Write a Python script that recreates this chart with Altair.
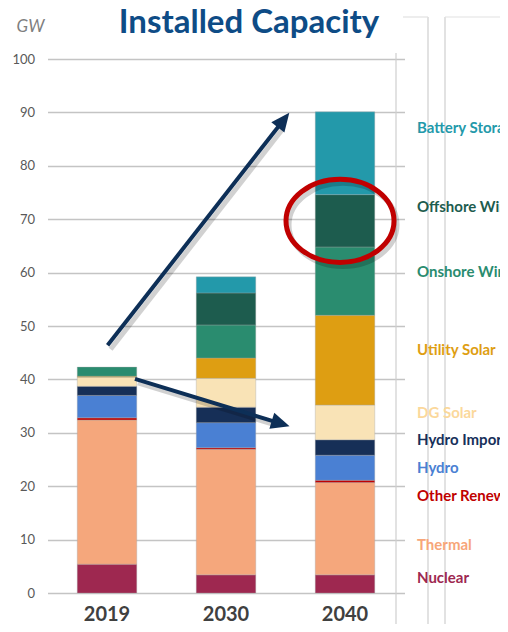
import altair as alt
import pandas as pd

# ---------------- data ----------------
years = ["2019", "2030", "2040"]
sources = ["Nuclear", "Thermal", "Other Renewables", "Hydro", "Hydro Imports",
           "DG Solar", "Utility Solar", "Onshore Wind", "Offshore Wind", "Battery Storage"]
cap_2019 = [5.4, 27.0, 0.4, 4.2, 1.7, 1.7, 0.2, 1.7, 0.0, 0.0]
cap_2030 = [3.4, 23.5, 0.3, 4.7, 2.9, 5.4, 3.8, 6.2, 6.0, 3.0]
cap_2040 = [3.4, 17.3, 0.4, 4.7, 2.9, 6.5, 16.8, 12.8, 9.8, 15.5]

bar_colors = ["#9E2850", "#F5A77C", "#C00000", "#4A80D3", "#162F57",
              "#F9E3B6", "#DE9E12", "#2A8C6F", "#1D5C4E", "#2399AA"]
label_colors = ["#9E2850", "#F7A679", "#C00000", "#4A80D3", "#17305A",
                "#FBD89B", "#DE9E12", "#2A8C6F", "#1D5C4E", "#2399AA"]
# vertical anchor (GW) of each right-hand label
label_gw = [2.8, 9.0, 18.2, 23.4, 28.7, 33.7, 45.5, 60.1, 72.2, 87.1]

title_text = "Installed Capacity"
unit_text = "GW"
y_ticks = [0, 10, 20, 30, 40, 50, 60, 70, 80, 90, 100]

# annotation arrows (x in category units: 0=2019, 1=2030, 2=2040)
arrow_x0 = [0.005, 0.235]
arrow_y0 = [46.4, 40.1]
arrow_x1 = [1.446, 1.401]
arrow_y1 = [87.5, 32.15]
arrow_angle = [38, 107]
# highlight ellipse around 2040 offshore wind
ring_x = [1.958]
ring_y = [69.7]

# ---------------- tables ----------------
rows = []
for yr, vals in zip(years, [cap_2019, cap_2030, cap_2040]):
    for i, (s, v) in enumerate(zip(sources, vals)):
        if v > 0:
            rows.append({"year": yr, "source": s, "gw": v, "ord": i})
df = pd.DataFrame(rows)

lab_df = pd.DataFrame({"source": sources, "y": label_gw, "c": label_colors,
                       "x": [2.605] * len(sources)})
arr_df = pd.DataFrame({"x": arrow_x0, "y": arrow_y0, "x2": arrow_x1, "y2": arrow_y1,
                       "ang": arrow_angle})
ring_df = pd.DataFrame({"x": ring_x, "y": ring_y})
one = pd.DataFrame({"t": [title_text], "u": [unit_text]})

W, H = 357, 534
FONT = "Lato"
Y_SCALE = alt.Scale(domain=[0, 100], nice=False)
X_ANN = alt.Scale(domain=[-0.5, 2.5], nice=False, zero=False)

bars = alt.Chart(df).mark_bar(stroke="#A6A6A6", strokeWidth=0.6, strokeOpacity=0.6).encode(
    x=alt.X("year:N", sort=years,
            scale=alt.Scale(paddingInner=0.5, paddingOuter=0.25),
            axis=alt.Axis(title=None, labelAngle=0, ticks=False, domain=False,
                          labelFont=FONT, labelFontSize=20, labelFontWeight="bold",
                          labelColor="#404040", labelPadding=11)),
    y=alt.Y("gw:Q", stack="zero", scale=Y_SCALE,
            axis=alt.Axis(title=None, values=y_ticks, grid=True, gridColor="#C4C4C4",
                          gridWidth=1.5, ticks=False, domain=False, labelFont=FONT,
                          labelFontSize=13, labelColor="#595959", labelPadding=13)),
    color=alt.Color("source:N", scale=alt.Scale(domain=sources, range=bar_colors), legend=None),
    order=alt.Order("ord:Q", sort="ascending"),
)

# decorative slide frame lines
frame_v = alt.Chart(pd.DataFrame({"x": [348.5, 380.5, 397.5], "y": [-6, -42, -42]})).mark_rule(
    color="#CFCFCF", strokeWidth=1.2).encode(
    x=alt.X("x:Q", scale=None), y=alt.Y("y:Q", scale=None), y2=alt.value(H + 40))
frame_h = alt.Chart(pd.DataFrame({"x": [355.5, 397.5], "x2": [380.5, 460]})).mark_rule(
    color="#E2E2E2", strokeWidth=1.2).encode(
    x=alt.X("x:Q", scale=None), x2="x2", y=alt.value(-42))

arrow_shadow = alt.Chart(arr_df).mark_rule(color="#000000", opacity=0.18, strokeWidth=5,
                                           xOffset=3, yOffset=4, x2Offset=3, y2Offset=4).encode(
    x=alt.X("x:Q", scale=X_ANN, axis=None), y=alt.Y("y:Q", scale=Y_SCALE), x2="x2", y2="y2")
arrows = alt.Chart(arr_df).mark_rule(color="#0D2F57", strokeWidth=4).encode(
    x=alt.X("x:Q", scale=X_ANN, axis=None), y=alt.Y("y:Q", scale=Y_SCALE), x2="x2", y2="y2")
head_path = "M 0 -1 L 0.5 0.12 L -0.5 0.12 Z"
heads = alt.Chart(arr_df).mark_point(shape=head_path, size=1100, filled=True, opacity=1,
                                     color="#0D2F57", strokeWidth=0).encode(
    x=alt.X("x2:Q", scale=X_ANN, axis=None), y=alt.Y("y2:Q", scale=Y_SCALE),
    angle=alt.Angle("ang:Q", scale=None))

ell = ("M -1 0 C -1 -0.425 -0.552 -0.77 0 -0.77 C 0.552 -0.77 1 -0.425 1 0 "
       "C 1 0.425 0.552 0.77 0 0.77 C -0.552 0.77 -1 0.425 -1 0 Z")
ring_shadow = alt.Chart(ring_df).mark_point(shape=ell, size=11664, filled=False, color="#000000",
                                            opacity=0.18, strokeWidth=5, xOffset=3, yOffset=4).encode(
    x=alt.X("x:Q", scale=X_ANN, axis=None), y=alt.Y("y:Q", scale=Y_SCALE))
ring = alt.Chart(ring_df).mark_point(shape=ell, size=11664, filled=False, color="#C00000",
                                     opacity=1, strokeWidth=5).encode(
    x=alt.X("x:Q", scale=X_ANN, axis=None), y=alt.Y("y:Q", scale=Y_SCALE))

labels = alt.Chart(lab_df).mark_text(align="left", baseline="middle", font=FONT,
                                     fontSize=15, fontWeight="bold").encode(
    x=alt.X("x:Q", scale=X_ANN, axis=None), y=alt.Y("y:Q", scale=Y_SCALE),
    text="source:N", color=alt.Color("c:N", scale=None, legend=None))

title = alt.Chart(one).mark_text(align="center", baseline="alphabetic", font=FONT,
                                 fontSize=33, fontWeight="bold", color="#0E4C86").encode(
    text="t:N", x=alt.value(201.5), y=alt.value(-26))
unit = alt.Chart(one).mark_text(align="center", baseline="alphabetic", font=FONT,
                                fontSize=17, fontStyle="italic", color="#7F7F7F").encode(
    text="u:N", x=alt.value(-17), y=alt.value(-27))

chart = alt.layer(
    frame_v, frame_h, bars, arrow_shadow, arrows, heads, ring_shadow, ring, labels, title, unit
).resolve_scale(x="independent", color="independent").properties(
    width=W, height=H,
    autosize=alt.AutoSizeParams(type="none"),
    padding={"left": 39.5, "top": 51, "right": 95.5, "bottom": 31},
).configure_view(stroke=None)

chart.save("out.html", embed_options={"renderer": "svg", "actions": False})
